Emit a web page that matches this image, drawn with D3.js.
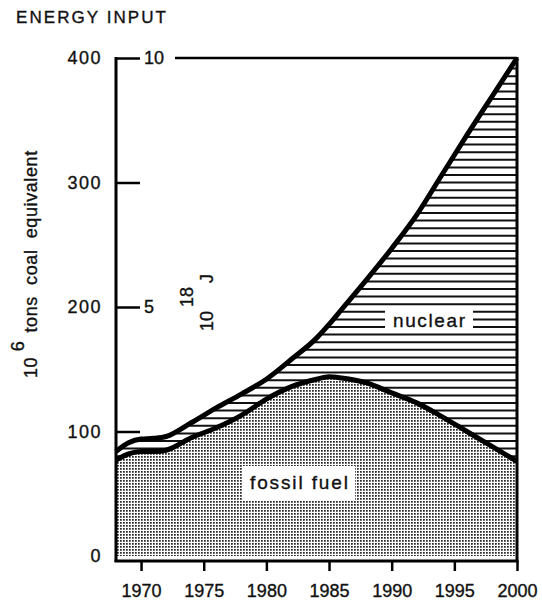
<!DOCTYPE html>
<html>
<head>
<meta charset="utf-8">
<script src="https://cdn.jsdelivr.net/npm/d3@7"></script>
<style>
  body { margin: 0; background: #fff; }
  svg { display: block; font-family: "Liberation Sans", Arial, sans-serif; }
  text { fill: #111; stroke: #111; stroke-width: 0.35px; }
</style>
</head>
<body>
<script>

// years and values (10^6 tons coal equivalent)
const years = [1968, 1969, 1970, 1971, 1972, 1974, 1976, 1978, 1980, 1982, 1984, 1985, 1986, 1988, 1990, 1992, 1994, 1996, 1998, 2000]
const fossil = [77, 82, 84, 84, 85, 95, 103, 113, 126, 136, 142, 144, 143, 139, 131, 123, 112, 100, 88, 76]
const total = [84, 91, 94, 94.5, 96, 107, 119, 130, 142, 158, 175, 186, 198, 222, 247, 274, 306, 338, 369, 400]

const yearTicks = [1970, 1975, 1980, 1985, 1990, 1995, 2000]
const coalTicks = [0, 100, 200, 300, 400]
const jouleTicks = [5, 10]

const width = 542, height = 605

const svg = d3.select("body").append("svg")
  .attr("width", width)
  .attr("height", height)

let x = d3.scaleLinear().domain([1968, 2000]).range([116, 517])
let y = d3.scaleLinear().domain([0, 400]).range([556, 58])
let yJ = d3.scaleLinear().domain([0, 10]).range([556, 58])

let defs = svg.append("defs")

let dots = defs.append("pattern")
  .attr("id", "stipple")
  .attr("patternUnits", "userSpaceOnUse")
  .attr("width", 3)
  .attr("height", 3)
dots.append("rect").attr("width", 3).attr("height", 3).attr("fill", "#fff")
dots.append("rect").attr("width", 1.75).attr("height", 1.75).attr("fill", "#2a2a2a")

let rows = years.map(function(yr, i) {
  return {year: yr, fossil: fossil[i], total: total[i]}
})

let curve = d3.curveMonotoneX

let fossilArea = d3.area()
  .x(d => x(d.year))
  .y0(y(0))
  .y1(d => y(d.fossil))
  .curve(curve)

let nuclearArea = d3.area()
  .x(d => x(d.year))
  .y0(d => y(d.fossil))
  .y1(d => y(d.total))
  .curve(curve)

defs.append("clipPath")
  .attr("id", "nuclear-clip")
  .append("path")
  .attr("d", nuclearArea(rows))

svg.append("path")
  .attr("d", fossilArea(rows))
  .attr("fill", "url(#stipple)")

// horizontal hatching of the nuclear band
svg.append("g")
  .attr("clip-path", "url(#nuclear-clip)")
  .selectAll("line")
  .data(d3.range(y(400) + 3, y(0), 7.6))
  .enter()
  .append("line")
  .attr("x1", x(1968))
  .attr("x2", x(2000))
  .attr("y1", d => d)
  .attr("y2", d => d)
  .attr("stroke", "#111")
  .attr("stroke-width", 2)

let line = function(key) {
  return d3.line().x(d => x(d.year)).y(d => y(d[key])).curve(curve)
}

svg.append("path")
  .attr("d", line("fossil")(rows))
  .attr("fill", "none")
  .attr("stroke", "#000")
  .attr("stroke-width", 5)

svg.append("path")
  .attr("d", line("total")(rows))
  .attr("fill", "none")
  .attr("stroke", "#000")
  .attr("stroke-width", 5)

// area labels on white boxes
function boxLabel(cx, cy, w, h, label, len) {
  svg.append("rect")
    .attr("x", cx - w / 2)
    .attr("y", cy - h / 2)
    .attr("width", w)
    .attr("height", h)
    .attr("fill", "#fff")
  svg.append("text")
    .attr("x", cx)
    .attr("y", cy + 6)
    .attr("text-anchor", "middle")
    .attr("font-size", "19px")
    .attr("textLength", len)
    .attr("lengthAdjust", "spacing")
    .text(label)
}

boxLabel(429, 321, 88, 22, "nuclear", 72)
boxLabel(299, 483, 112, 34, "fossil fuel", 98)

// frame: left, right, top and bottom
svg.append("line")
  .attr("x1", x(1968)).attr("x2", x(1968))
  .attr("y1", y(400) - 1).attr("y2", y(0) + 6)
  .attr("stroke", "#000").attr("stroke-width", 3)

svg.append("line")
  .attr("x1", x(2000)).attr("x2", x(2000))
  .attr("y1", y(400) - 1).attr("y2", y(0) + 6)
  .attr("stroke", "#000").attr("stroke-width", 3)

svg.append("line")
  .attr("x1", 175).attr("x2", x(2000))
  .attr("y1", y(400)).attr("y2", y(400))
  .attr("stroke", "#000").attr("stroke-width", 2.5)

let xAxis = svg.append("g")
  .attr("transform", "translate(0," + (y(0) + 5) + ")")
  .call(d3.axisBottom(x).tickValues(yearTicks).tickFormat(d3.format("d")).tickSize(10).tickPadding(13))

xAxis.select(".domain")
  .attr("d", "M" + (x(1968) - 1.5) + ",0H" + (x(2000) + 1.5))
  .attr("stroke-width", 3)
xAxis.selectAll(".tick line").attr("stroke-width", 2.5)
xAxis.selectAll(".tick text")
  .attr("font-size", "18px")
  .attr("font-family", "Liberation Sans, Arial, sans-serif")
  .attr("fill", "#111")

let yAxis = svg.append("g")
  .attr("transform", "translate(" + x(1968) + ",0)")
  .call(d3.axisLeft(y).tickValues(coalTicks).tickSize(-24).tickPadding(14))

yAxis.select(".domain").remove()
yAxis.selectAll(".tick line")
  .attr("stroke-width", 2.5)
  .filter(d => d === 0)
  .remove()
yAxis.selectAll(".tick text")
  .attr("font-size", "18px")
  .attr("letter-spacing", "1.5px")
  .attr("font-family", "Liberation Sans, Arial, sans-serif")
  .attr("fill", "#111")

let jAxis = svg.append("g")
  .attr("transform", "translate(" + (x(1968) + 26) + ",0)")
  .call(d3.axisRight(yJ).tickValues(jouleTicks).tickSize(0).tickPadding(2))

jAxis.select(".domain").remove()
jAxis.selectAll(".tick text")
  .attr("font-size", "18px")
  .attr("font-family", "Liberation Sans, Arial, sans-serif")
  .attr("fill", "#111")

// titles
svg.append("text")
  .attr("x", 16)
  .attr("y", 23)
  .attr("font-size", "17px")
  .attr("textLength", 150)
  .attr("lengthAdjust", "spacing")
  .text("ENERGY INPUT")

let coalTitle = svg.append("text")
  .attr("transform", "translate(37,378) rotate(-90)")
  .attr("font-size", "18px")
  .attr("letter-spacing", "0.6px")
  .style("white-space", "pre")
coalTitle.append("tspan").text("10 ")
coalTitle.append("tspan").attr("dy", -13).text("6")
coalTitle.append("tspan").attr("dy", 13).attr("dx", 8).text("tons  coal  equivalent")

let jouleTitle = svg.append("text")
  .attr("transform", "translate(213,331) rotate(-90)")
  .attr("font-size", "18px")
jouleTitle.append("tspan").text("10")
jouleTitle.append("tspan").attr("dy", -20).attr("dx", 4).text("18")
jouleTitle.append("tspan").attr("dy", 20).attr("dx", 4).text("J")

</script>
</body>
</html>
